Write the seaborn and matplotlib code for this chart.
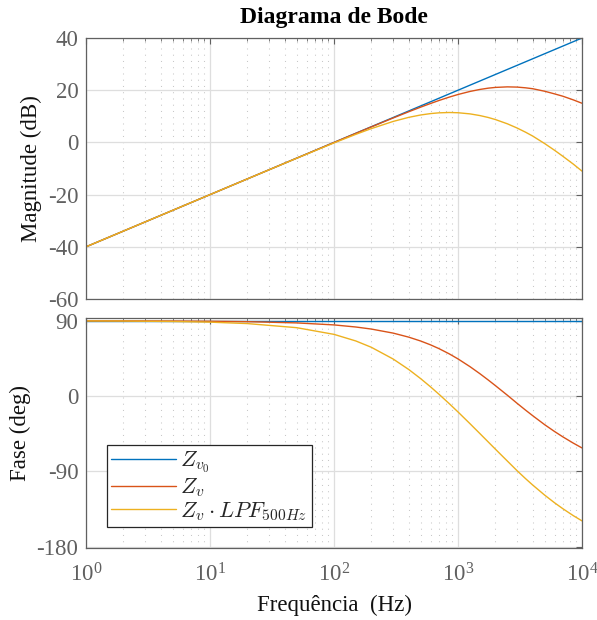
import numpy as np
import pandas as pd

import matplotlib
matplotlib.use("Agg")
import matplotlib.pyplot as plt
import seaborn as sns
from matplotlib.ticker import LogLocator, NullFormatter, FixedLocator

# Frequencias (Hz)
freq = [1, 2, 5, 10, 20, 50, 100, 150, 200, 300, 400, 500, 600, 700, 850,
        1000, 1250, 1500, 1750, 2000, 2500, 3000, 3500, 4000, 5000, 6000,
        7000, 8500, 10000]

# Magnitude (dB)
mag_zv0 = [-40.0, -33.98, -26.02, -20.0, -13.98, -6.02, 0.0, 3.52, 6.02,
           9.54, 12.04, 13.98, 15.56, 16.90, 18.59, 20.0, 21.94, 23.52,
           24.86, 26.02, 27.96, 29.54, 30.88, 32.04, 33.98, 35.56, 36.90,
           38.59, 40.0]
mag_zv = [-40.0, -33.98, -26.02, -20.0, -13.98, -6.03, -0.02, 3.48, 5.95,
          9.37, 11.74, 13.52, 14.91, 16.04, 17.36, 18.36, 19.53, 20.29,
          20.78, 21.07, 21.28, 21.19, 20.92, 20.57, 19.6, 18.6, 17.7,
          16.3, 15.0]
mag_lpf = [-40.0, -33.98, -26.02, -20.0, -13.99, -6.07, -0.19, 3.10, 5.30,
           8.04, 9.60, 10.51, 11.04, 11.33, 11.46, 11.37, 10.93, 10.29,
           9.56, 8.77, 7.13, 5.50, 3.93, 2.44, -0.45, -3.0, -5.3,
           -8.3, -11.0]

# Fase (deg)
fase_zv0 = [90.0] * len(freq)
fase_zv = [89.95, 89.9, 89.75, 89.5, 89.0, 87.5, 85.1, 82.6, 80.15, 75.3,
           70.5, 65.84, 61.28, 56.85, 50.48, 44.45, 35.16, 26.81, 19.31,
           12.57, 1.03, -8.7, -16.7, -23.4, -34.2, -42.3, -48.7, -56.2,
           -62.0]
fase_lpf = [89.84, 89.7, 89.2, 88.4, 86.7, 81.8, 73.8, 65.9, 58.35, 44.3,
            31.85, 20.84, 11.09, 2.39, -9.05, -18.98, -33.04, -44.76,
            -54.74, -63.39, -77.66, -89.3, -98.6, -106.3, -118.4, -127.5,
            -134.6, -142.9, -149.2]

nomes = [r'$Z_{v_0}$', r'$Z_v$', r'$Z_v \cdot LPF_{500Hz}$']
cores = ['#0072BD', '#D95319', '#EDB120']

df = pd.concat([
    pd.DataFrame({'f': freq, 'mag': mag_zv0, 'fase': fase_zv0, 'curva': nomes[0]}),
    pd.DataFrame({'f': freq, 'mag': mag_zv, 'fase': fase_zv, 'curva': nomes[1]}),
    pd.DataFrame({'f': freq, 'mag': mag_lpf, 'fase': fase_lpf, 'curva': nomes[2]}),
])

sns.set_theme(style="white")
plt.rcParams['font.family'] = ['Liberation Serif', 'DejaVu Serif']
plt.rcParams['mathtext.fontset'] = 'cm'
plt.rcParams['axes.unicode_minus'] = False

cinza = '#606060'
paleta = dict(zip(nomes, cores))

fig = plt.figure(figsize=(5.97, 6.2), dpi=100)
ax1 = fig.add_axes([0.1441, 0.5177, 0.8308, 0.4210])
ax2 = fig.add_axes([0.1441, 0.1156, 0.8308, 0.3710])

sns.lineplot(data=df, x='f', y='mag', hue='curva', palette=paleta,
             linewidth=1.0, ax=ax1, legend=False, sort=False)
sns.lineplot(data=df, x='f', y='fase', hue='curva', palette=paleta,
             linewidth=1.0, ax=ax2, sort=False)

for ax in (ax1, ax2):
    ax.set_xscale('log')
    ax.set_xlim(1, 1e4)
    ax.xaxis.set_major_locator(LogLocator(base=10, numticks=10))
    ax.xaxis.set_minor_locator(LogLocator(base=10, subs=np.arange(2, 10), numticks=50))
    ax.xaxis.set_minor_formatter(NullFormatter())
    ax.grid(True, which='major', axis='both', color='#dedede', linewidth=0.9, linestyle='-')
    ax.grid(True, which='minor', axis='x', color='#c8c8c8', linewidth=0.75, linestyle=(0, (1, 5)))
    ax.tick_params(which='both', direction='in', top=True, right=True,
                   colors=cinza, labelsize=16.5)
    ax.tick_params(axis='y', pad=5.5)
    ax.tick_params(axis='x', pad=11)
    ax.tick_params(which='major', length=4, width=0.8)
    ax.tick_params(which='minor', length=2.5, width=0.6)
    for s in ax.spines.values():
        s.set_color(cinza)
        s.set_linewidth(0.9)
    ax.set_axisbelow(True)

ax1.set_ylim(-60, 40)
ax1.yaxis.set_major_locator(FixedLocator([-60, -40, -20, 0, 20, 40]))
ax1.tick_params(labelbottom=False)
ax1.set_xlabel('')
ax1.set_ylabel('Magnitude (dB)', fontsize=16.5, color='#111111', labelpad=4)
ax1.set_title('Diagrama de Bode', fontsize=17, fontweight='bold', color='black', pad=11)

ax2.set_ylim(-182, 93)
ax2.yaxis.set_major_locator(FixedLocator([-180, -90, 0, 90]))
ax2.set_xlabel('Frequência  (Hz)', fontsize=16.5, color='#111111', labelpad=6)
ax2.set_ylabel('Fase (deg)', fontsize=16.5, color='#111111', labelpad=4)

leg = ax2.legend(loc='lower left', bbox_to_anchor=(0.042, 0.091),
                 borderaxespad=0, fontsize=16, handlelength=2.9,
                 labelspacing=0.05, handletextpad=0.2, borderpad=0.2,
                 fancybox=False, framealpha=1, edgecolor='#262626')
leg.get_frame().set_linewidth(0.9)

fig.savefig('out.png', dpi=100)
